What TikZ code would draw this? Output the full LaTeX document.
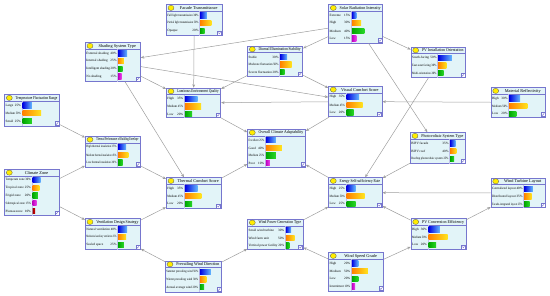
\documentclass[tikz,border=0pt]{standalone}
\usepackage{fontspec}
\setmainfont{Liberation Serif}
\usepackage{graphicx}
\usepackage{tikz}
\usetikzlibrary{arrows.meta, calc}

\definecolor{frameblue}{RGB}{118,118,206}
\definecolor{paneblue}{RGB}{226,244,248}
\definecolor{linkgray}{RGB}{158,158,158}
\definecolor{sunyellow}{RGB}{255,236,0}
\definecolor{blueA}{RGB}{0,0,225}
\definecolor{blueB}{RGB}{100,185,255}
\definecolor{orangeA}{RGB}{255,128,0}
\definecolor{orangeB}{RGB}{255,228,30}
\definecolor{greenA}{RGB}{0,165,0}
\definecolor{greenB}{RGB}{40,215,40}
\definecolor{magA}{RGB}{190,0,190}
\definecolor{magB}{RGB}{235,70,235}
\definecolor{redA}{RGB}{150,0,0}
\definecolor{redB}{RGB}{225,0,0}

\newlength\bnnat
\newlength\bnmax
% squeeze a text into a width when it is too long
\newcommand{\fitbox}[2]{\setlength{\bnmax}{#1}\settowidth{\bnnat}{#2}%
  \ifdim\bnnat>\bnmax\resizebox{\bnmax}{\height}{#2}\else#2\fi}
% state text: label on the left, percentage on the right
\newcommand{\rowtext}[3]{\setlength{\bnmax}{#1}\settowidth{\bnnat}{#2\ #3\%}%
  \ifdim\bnnat>\bnmax\resizebox{\bnmax}{\height}{#2\ #3\%}\else\makebox[\bnmax][l]{#2\hfill#3\%}\fi}

% #1 name, #2 left, #3 top, #4 width, #5 height, #6 bar column, #7 title
\newcommand{\bnnode}[7]{%
  \node[bnbox, minimum width=#4pt, minimum height=#5pt] (#1) at (#2,#3) {};
  \xdef\bnid{#1}\xdef\bnwd{#4}\xdef\bnsplit{#6}%
  \draw[bnrule] ([yshift=-7pt]#1.north west) -- ([yshift=-7pt]#1.north east);
  \draw[bnsep] ([xshift=#6pt,yshift=-7pt]#1.north west) -- ([xshift=#6pt]#1.south west);
  \filldraw[bnsun] ([xshift=5pt,yshift=-3.6pt]#1.north west) circle [x radius=3pt, y radius=2.6pt];
  \node[bntitle] (#1-t) at ([xshift=4.5pt,yshift=-3.7pt]#1.north) {\fitbox{\dimexpr#4pt-13pt\relax}{#7}};
  \draw[bnicon] ([xshift=-5pt,yshift=1pt]#1.south east) rectangle ([xshift=-1pt,yshift=5pt]#1.south east);
  \draw[bnrule, line width=0.4pt] ([xshift=-4.2pt,yshift=3.2pt]#1.south east) -- ([xshift=-3.2pt,yshift=2pt]#1.south east) -- ([xshift=-1.6pt,yshift=4.4pt]#1.south east);
}
% #1 row, #2 label, #3 percentage, #4 bar style
\newcommand{\bnrow}[4]{%
  \coordinate (bnr) at ([yshift={-11.2pt-(#1-1)*7.7pt}]\bnid.north west);
  \node[bnrowtext] (\bnid-s#1) at ([xshift=1.2pt]bnr) {\rowtext{\dimexpr\bnsplit pt-2.2pt\relax}{#2}{#3}};
  \pgfmathsetmacro\bnlen{#3*(\bnwd-\bnsplit)/100}
  \shade[#4] ([xshift=\bnsplit pt+0.8pt, yshift=2.6pt]bnr) rectangle ++(\bnlen,5.2);
}

\begin{document}
\begin{tikzpicture}[
    x=1pt, y=-1pt,
    bnbox/.style={draw=frameblue, fill=paneblue, line width=0.8pt, inner sep=0pt, anchor=north west},
    bnrule/.style={draw=frameblue, line width=0.6pt},
    bnsep/.style={draw=frameblue!45, line width=0.3pt},
    bnsun/.style={fill=sunyellow, draw=black!65, line width=0.3pt},
    bntitle/.style={font=\fontsize{4.3}{4.3}\selectfont, inner sep=0pt},
    bnrowtext/.style={font=\fontsize{3.3}{3.3}\selectfont, inner sep=0pt, anchor=west},
    bnicon/.style={draw=frameblue, fill=white, line width=0.3pt},
    bnlink/.style={draw=linkgray, line width=0.5pt, -{Stealth[length=3.4pt, width=2.8pt]}},
    barblue/.style={left color=blueA, right color=blueB},
    barorange/.style={left color=orangeA, right color=orangeB},
    bargreen/.style={left color=greenA, right color=greenB},
    barmag/.style={left color=magA, right color=magB},
    barred/.style={left color=redA, right color=redB},
]
\useasboundingbox (0,0) rectangle (550,296);

% === Top row ===
\bnnode{ft}{166}{4.3}{55.7}{30.7}{33.3}{Facade Transmittance}
\bnrow{1}{Full light transmission}{30}{barblue}
\bnrow{2}{Partial light transmission}{50}{barorange}
\bnrow{3}{Opaque}{20}{bargreen}

\bnnode{sr}{328.3}{4.3}{54}{38.3}{22.7}{Solar Radiation Intensity}
\bnrow{1}{Extreme}{15}{barblue}
\bnrow{2}{High}{30}{barorange}
\bnrow{3}{Medium}{40}{bargreen}
\bnrow{4}{Low}{15}{barmag}

\bnnode{sst}{85}{42.3}{55}{38.7}{32.3}{Shading System Type}
\bnrow{1}{External shading}{40}{barblue}
\bnrow{2}{Internal shading}{25}{barorange}
\bnrow{3}{Intelligent shading}{20}{bargreen}
\bnrow{4}{No shading}{15}{barmag}

\bnnode{dis}{247.3}{45.7}{55}{30.3}{32}{Diurnal Illumination Stability}
\bnrow{1}{Stable}{30}{barblue}
\bnrow{2}{Moderate fluctuation}{50}{barorange}
\bnrow{3}{Severe fluctuation}{20}{bargreen}

\bnnode{pvo}{410.7}{46.7}{54.3}{30.6}{26.6}{PV Installation Orientation}
\bnrow{1}{South-facing}{50}{barblue}
\bnrow{2}{East-west facing}{30}{barorange}
\bnrow{3}{Multi-orientation}{20}{bargreen}

% === Light and comfort ===
\bnnode{leq}{166}{87.7}{54.3}{29.6}{18}{Luminous Environment Quality}
\bnrow{1}{High}{35}{barblue}
\bnrow{2}{Medium}{45}{barorange}
\bnrow{3}{Low}{20}{bargreen}

\bnnode{vcs}{328.3}{86}{53.4}{30.3}{17.4}{Visual Comfort Score}
\bnrow{1}{High}{35}{barblue}
\bnrow{2}{Medium}{45}{barorange}
\bnrow{3}{Low}{20}{bargreen}

\bnnode{mr}{490.7}{87.3}{54.3}{29.4}{17.6}{Material Reflectivity}
\bnrow{1}{High}{30}{barblue}
\bnrow{2}{Medium}{50}{barorange}
\bnrow{3}{Low}{20}{bargreen}

\bnnode{tfr}{4.3}{94.3}{54.7}{31.4}{17.4}{Temperature Fluctuation Range}
\bnrow{1}{Large}{25}{barblue}
\bnrow{2}{Medium}{50}{barorange}
\bnrow{3}{Small}{25}{bargreen}

% === Middle row ===
\bnnode{tpbe}{85}{136}{55}{30.7}{32.3}{Thermal Performance of Building Envelope}
\bnrow{1}{High thermal insulation}{35}{barblue}
\bnrow{2}{Medium thermal insulation}{45}{barorange}
\bnrow{3}{Low thermal insulation}{20}{bargreen}

\bnnode{oca}{247.3}{129}{57.7}{37.7}{17.7}{Overall Climate Adaptability}
\bnrow{1}{Excellent}{25}{barblue}
\bnrow{2}{Good}{40}{barorange}
\bnrow{3}{Medium}{25}{bargreen}
\bnrow{4}{Poor}{10}{barmag}

\bnnode{pst}{410}{132.3}{55}{31}{39.3}{Photovoltaic System Type}
\bnrow{1}{BIPV facade}{35}{barblue}
\bnrow{2}{BIPV roof}{40}{barorange}
\bnrow{3}{Rooftop photovoltaic system}{25}{bargreen}

\bnnode{cz}{4.3}{169}{54.7}{46}{27.4}{Climate Zone}
\bnrow{1}{Temperate zone}{30}{barblue}
\bnrow{2}{Tropical zone}{25}{barorange}
\bnrow{3}{Frigid zone}{20}{bargreen}
\bnrow{4}{Subtropical zone}{15}{barmag}
\bnrow{5}{Plateau zone}{10}{barred}

\bnnode{tcs}{166}{177.3}{54.7}{31}{18}{Thermal Comfort Score}
\bnrow{1}{High}{35}{barblue}
\bnrow{2}{Medium}{45}{barorange}
\bnrow{3}{Low}{20}{bargreen}

\bnnode{esr}{328.3}{177.3}{53.4}{30}{17.4}{Energy Self-sufficiency Rate}
\bnrow{1}{High}{25}{barblue}
\bnrow{2}{Medium}{50}{barorange}
\bnrow{3}{Low}{25}{bargreen}

\bnnode{wtl}{490.7}{177.7}{54.3}{29.6}{32.6}{Wind Turbine Layout}
\bnrow{1}{Centralized layout}{40}{barblue}
\bnrow{2}{Distributed layout}{35}{barorange}
\bnrow{3}{Facade-integrated layout}{25}{bargreen}

% === Wind and ventilation ===
\bnnode{vds}{85}{218.3}{55}{31}{32.3}{Ventilation Design Strategy}
\bnrow{1}{Natural ventilation}{40}{barblue}
\bnrow{2}{Mechanical auxiliary ventilation}{35}{barorange}
\bnrow{3}{Sealed space}{25}{bargreen}

\bnnode{wpgt}{247.3}{219}{55.4}{30.3}{37.7}{Wind Power Generation Type}
\bnrow{1}{Small wind turbine}{30}{barblue}
\bnrow{2}{Wind farm unit}{50}{barorange}
\bnrow{3}{Vertical power facility}{20}{bargreen}

\bnnode{pce}{410.7}{218.3}{55}{30.7}{17}{PV Conversion Efficiency}
\bnrow{1}{High}{30}{barblue}
\bnrow{2}{Medium}{50}{barorange}
\bnrow{3}{Low}{20}{bargreen}

\bnnode{pwd}{165}{260.7}{56}{31}{34}{Prevailing Wind Direction}
\bnrow{1}{Summer prevailing wind}{50}{barblue}
\bnrow{2}{Winter prevailing wind}{30}{barorange}
\bnrow{3}{Annual average wind}{20}{bargreen}

\bnnode{wsg}{328.3}{252.3}{55}{38.4}{22.7}{Wind Speed Grade}
\bnrow{1}{High}{20}{barblue}
\bnrow{2}{Medium}{50}{barorange}
\bnrow{3}{Low}{20}{bargreen}
\bnrow{4}{Intermittent}{10}{barmag}

% === Links ===
\draw[bnlink] (sr) -- (sst);
\draw[bnlink] (sr) -- (dis);
\draw[bnlink] (sr) -- (pvo);
\draw[bnlink] (sr) -- (pst);
\draw[bnlink] (ft) -- (leq);
\draw[bnlink] (sst) -- (leq);
\draw[bnlink] (sst) -- (vcs);
\draw[bnlink] (sst) -- (tcs);
\draw[bnlink] (dis) -- (leq);
\draw[bnlink] (dis) -- (vcs);
\draw[bnlink] (vcs) -- (leq);
\draw[bnlink] (mr) -- (vcs);
\draw[bnlink] (leq) -- (oca);
\draw[bnlink] (vcs) -- (oca);
\draw[bnlink] (tcs) -- (oca);
\draw[bnlink] (esr) -- (oca);
\draw[bnlink] (tfr) -- (tpbe);
\draw[bnlink] (cz) -- (tpbe);
\draw[bnlink] (tpbe) -- (tcs);
\draw[bnlink] (cz) -- (vds);
\draw[bnlink] (vds) -- (tcs);
\draw[bnlink] (pwd) -- (vds);
\draw[bnlink] (pwd) -- (wpgt);
\draw[bnlink] (wsg) -- (wpgt);
\draw[bnlink] (wsg) -- (pce);
\draw[bnlink] (wpgt) -- (esr);
\draw[bnlink] (pvo) -- (esr);
\draw[bnlink] (pst) -- (esr);
\draw[bnlink] (wtl) -- (esr);
\draw[bnlink] (pce) -- (esr);
\draw[bnlink] (pce) -- (wtl);

\end{tikzpicture}
\end{document}
